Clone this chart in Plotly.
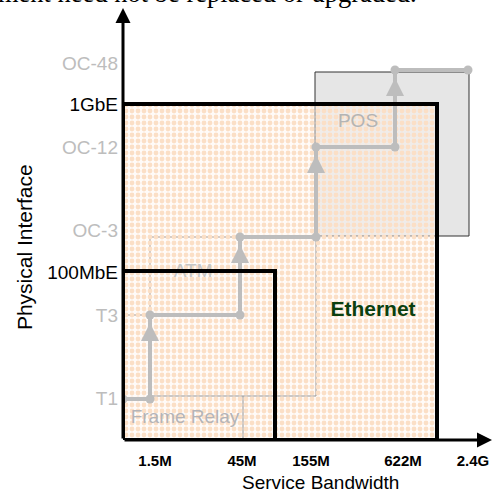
import plotly.graph_objects as go

# ---------------- data ----------------
bandwidth_labels = ["1.5M", "45M", "155M", "622M", "2.4G"]
bandwidth_label_pos = [32, 119, 188, 280, 350]
bandwidth_steps = [0, 27, 117, 193, 272, 345]          # path corners (axis, 1.5M, 45M, 155M, 622M, 2.4G)

interface_labels = ["T1", "T3", "100MbE", "OC-3", "OC-12", "1GbE", "OC-48"]
interface_label_pos = [42, 125, 168, 210, 293, 336, 377]
interface_is_ethernet = [False, False, True, False, False, True, False]
interface_steps = [41, 125, 203, 293, 370]              # T1, T3, OC-3, OC-12, OC-48

# technology regions: (x0, x1, y0, y1)
frame_relay_box = [0, 120, 0, 125]
atm_box = [27, 193, 44, 203]
pos_box = [192, 346, 204, 368]
ethernet_box = [0, 314, 0, 336]
fast_ethernet_box = [0, 152, 0, 169]

region_labels = ["Frame Relay", "ATM", "POS"]
region_label_x = [62, 70, 235]
region_label_y = [22, 168, 318]

GRAY = "#bdbdbd"
FONT = "Arial, Liberation Sans, sans-serif"

fig = go.Figure()

# ---------- background boxes (below traces) ----------
shapes = []
shapes.append(dict(type="rect", layer="below", x0=pos_box[0], x1=pos_box[1], y0=pos_box[2], y1=pos_box[3],
                   fillcolor="#e6e6e6", line=dict(color="#333333", width=1)))
shapes.append(dict(type="rect", layer="below", x0=frame_relay_box[0], x1=frame_relay_box[1],
                   y0=frame_relay_box[2], y1=frame_relay_box[3],
                   fillcolor="rgba(0,0,0,0)", line=dict(color="#555555", width=1)))
shapes.append(dict(type="rect", layer="below", x0=atm_box[0], x1=atm_box[1], y0=atm_box[2], y1=atm_box[3],
                   fillcolor="white", line=dict(color="#555555", width=1)))

# ---------- Ethernet checkered fill ----------
ex0, ex1, ey0, ey1 = ethernet_box
fig.add_trace(go.Scatter(
    x=[ex0, ex1, ex1, ex0, ex0], y=[ey0, ey0, ey1, ey1, ey0],
    mode="lines", line=dict(width=0), fill="toself",
    fillcolor="rgba(0,0,0,0)",
    fillpattern=dict(shape=".", size=6, solidity=0.5, fgcolor="#fbdfc6", fgopacity=1,
                     bgcolor="rgba(255,246,238,0.4)"),
    hoverinfo="skip", showlegend=False))

# ---------- migration path ----------
px, py = [], []
for i in range(len(interface_steps)):
    px += [bandwidth_steps[i], bandwidth_steps[i + 1]]
    py += [interface_steps[i], interface_steps[i]]
fig.add_trace(go.Scatter(x=px, y=py, mode="lines+markers",
                         line=dict(color=GRAY, width=4),
                         marker=dict(color=GRAY, size=9),
                         hoverinfo="skip", showlegend=False))

# ---------- region labels ----------
fig.add_trace(go.Scatter(x=region_label_x, y=region_label_y, mode="text", text=region_labels,
                         textfont=dict(family=FONT, size=19, color=["#b4b4b8", "#c6c6c6", "#b4b4b4"]),
                         textposition="middle center", hoverinfo="skip", showlegend=False))
fig.add_trace(go.Scatter(x=[250], y=[129], mode="text", text=["Ethernet"],
                         textfont=dict(family=FONT, size=21, color="#0b400f", weight="bold"),
                         textposition="middle center", hoverinfo="skip", showlegend=False))

# ---------- thick Ethernet borders (above) ----------
for b in (ethernet_box, fast_ethernet_box):
    shapes.append(dict(type="rect", layer="above", x0=b[0], x1=b[1], y0=b[2], y1=b[3],
                       fillcolor="rgba(0,0,0,0)", line=dict(color="black", width=4)))

annotations = []
# arrowheads on the path
for i in range(1, len(interface_steps)):
    xv = bandwidth_steps[i]
    tip = interface_steps[i] - 8
    annotations.append(dict(x=xv, y=tip, ax=xv, ay=tip - 14, xref="x", yref="y", axref="x", ayref="y",
                            showarrow=True, arrowhead=2, arrowsize=0.9, arrowwidth=4,
                            arrowcolor=GRAY, text="", standoff=0))
# axes with arrows
annotations.append(dict(x=0, y=432, ax=0, ay=0, xref="x", yref="y", axref="x", ayref="y",
                        showarrow=True, arrowhead=2, arrowsize=1, arrowwidth=3, arrowcolor="black", text=""))
annotations.append(dict(x=369, y=0, ax=0, ay=0, xref="x", yref="y", axref="x", ayref="y",
                        showarrow=True, arrowhead=2, arrowsize=1, arrowwidth=3, arrowcolor="black", text=""))
# axis titles
annotations.append(dict(x=0.5296, y=-0.0977, xref="paper", yref="paper", text="Service Bandwidth",
                        showarrow=False, font=dict(family=FONT, size=19, color="black"),
                        xanchor="center", yanchor="middle"))
annotations.append(dict(x=-0.266, y=0.4386, xref="paper", yref="paper", text="Physical Interface",
                        showarrow=False, textangle=-90, font=dict(family=FONT, size=21, color="black"),
                        xanchor="center", yanchor="middle"))
# cut-off caption line at top (the reference shows only its lower part)
annotations.append(dict(x=0.795, y=1, xref="paper", yref="paper", text="ment need not be replaced or upgraded.",
                        showarrow=False, font=dict(family="Liberation Serif, Times New Roman, serif", size=26.5,
                                                   color="black"),
                        xanchor="right", yanchor="bottom", yshift=-10))

ytext = [f'<span style="color:{"#000000" if e else GRAY}">{t}</span>'
         for t, e in zip(interface_labels, interface_is_ethernet)]

fig.update_layout(
    width=495, height=493,
    margin=dict(l=123, r=0, t=0, b=53),
    paper_bgcolor="white", plot_bgcolor="white",
    shapes=shapes, annotations=annotations,
    xaxis=dict(range=[0, 372], showgrid=False, zeroline=False, showline=False,
               tickvals=bandwidth_label_pos, ticktext=bandwidth_labels, ticks="",
               tickfont=dict(family=FONT, size=15, color="black", weight="bold"),
               ticklabelstandoff=10, fixedrange=True),
    yaxis=dict(range=[0, 440], showgrid=False, zeroline=False, showline=False,
               tickvals=interface_label_pos, ticktext=ytext, ticks="",
               tickfont=dict(family=FONT, size=19, color="black"),
               ticklabelstandoff=4, fixedrange=True),
    showlegend=False,
)

fig.write_html("out.html", config={"displayModeBar": False},
               post_script="document.body.style.margin='0';document.body.style.overflow='hidden';")
